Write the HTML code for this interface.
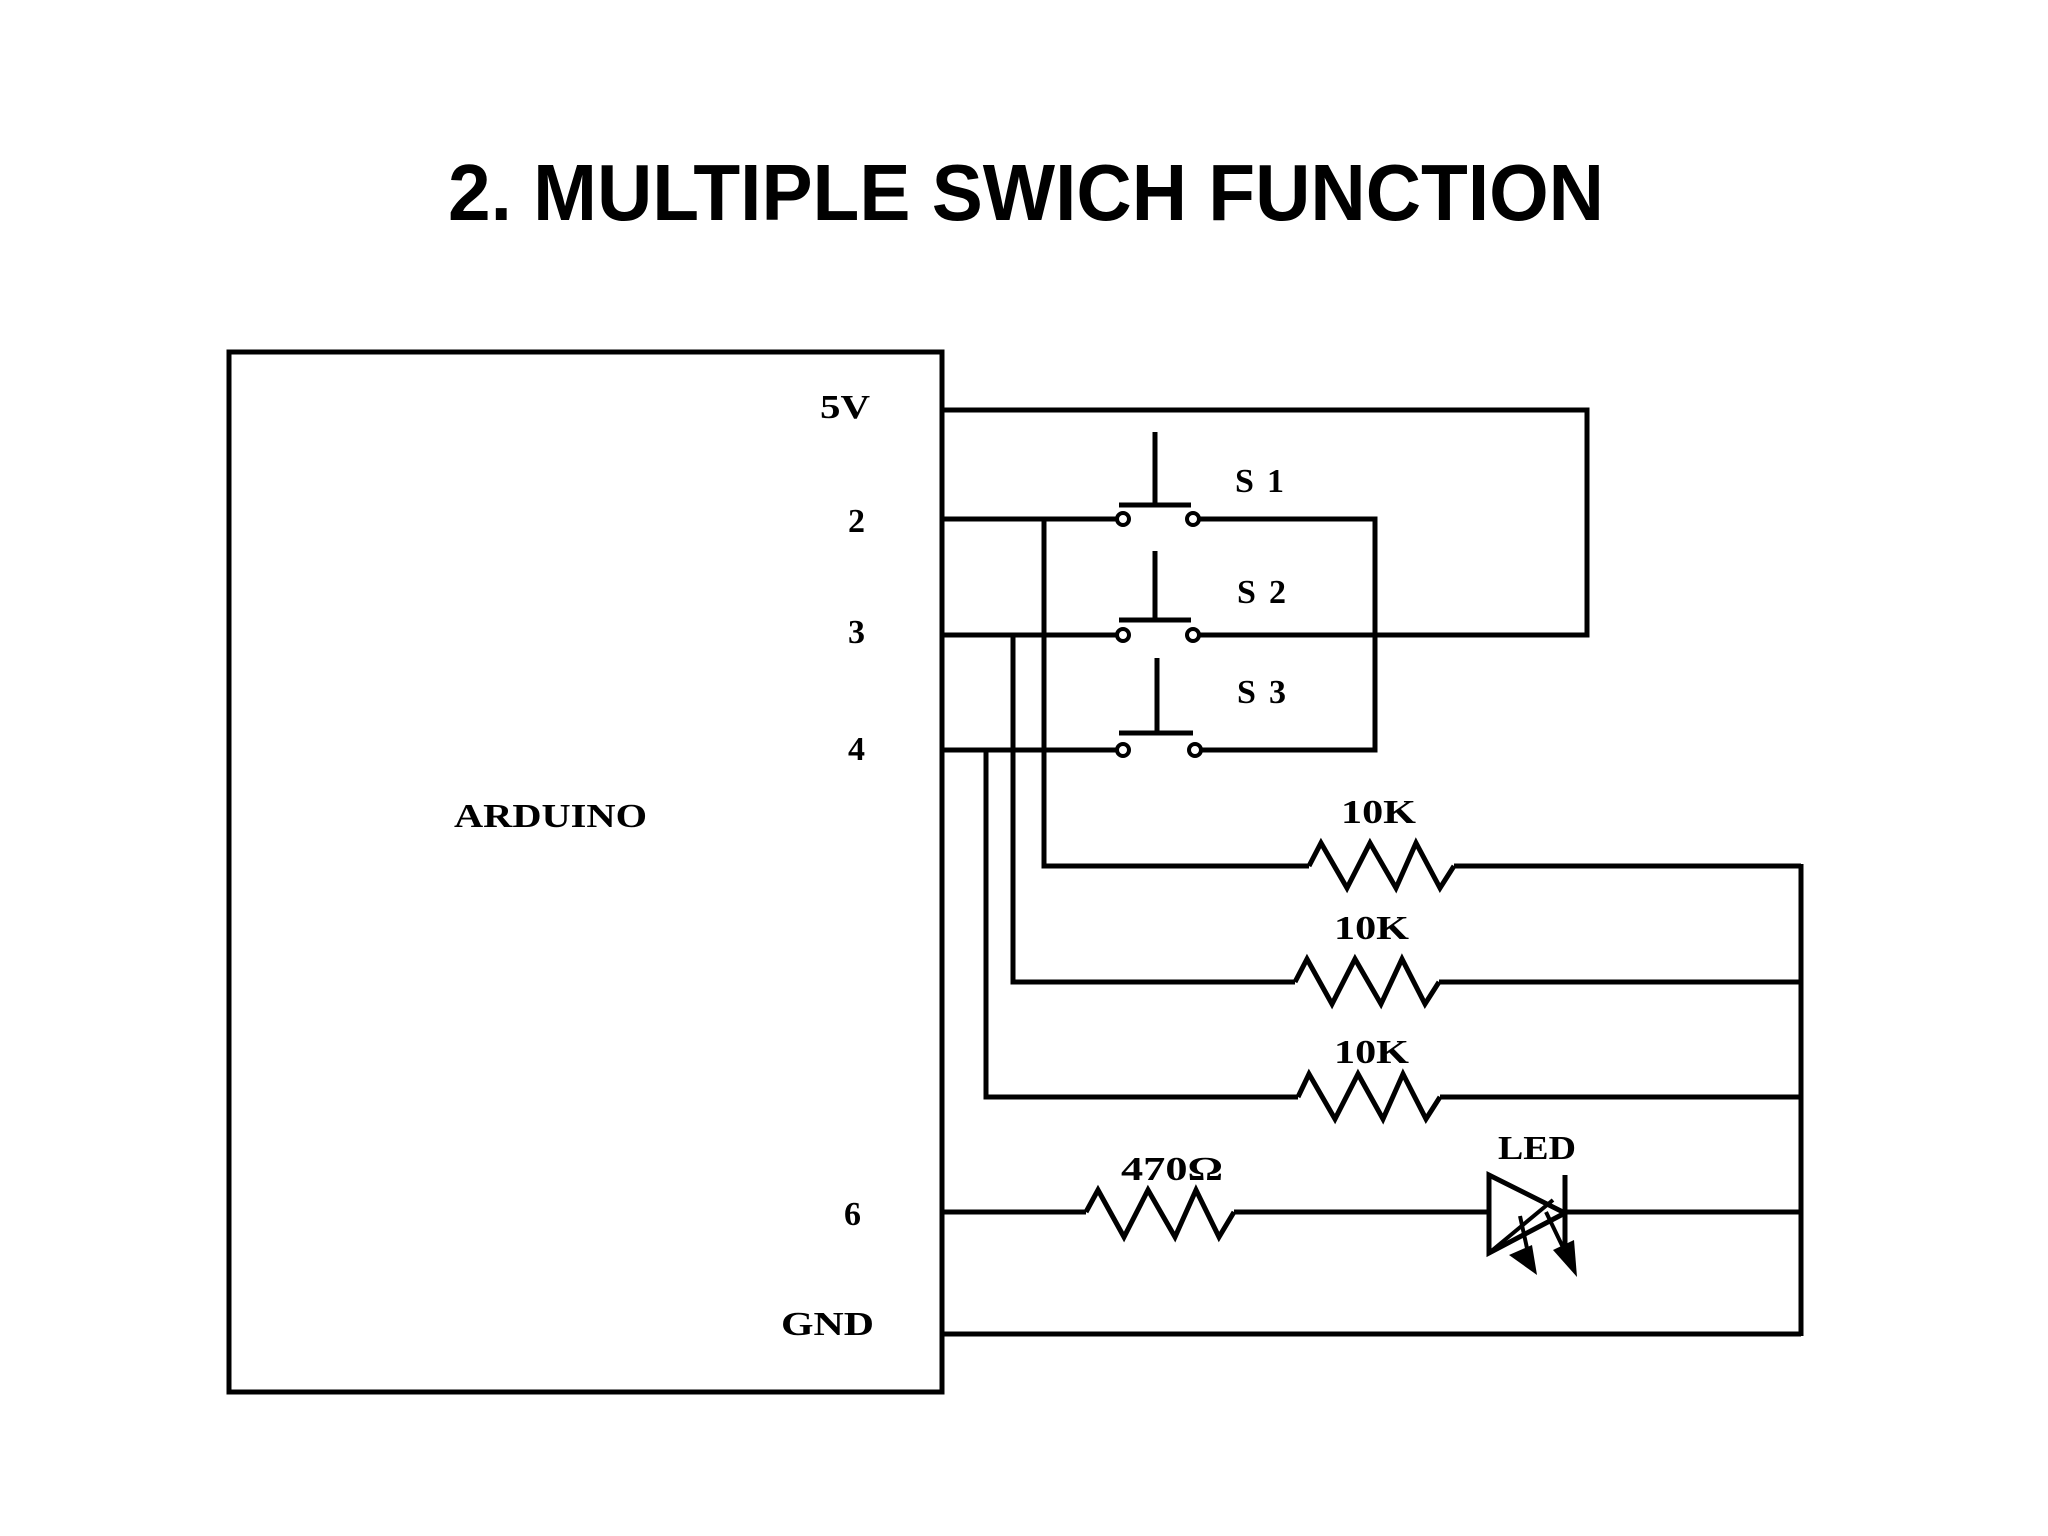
<!DOCTYPE html>
<html><head><meta charset="utf-8"><style>
html,body{margin:0;padding:0;background:#fff;}
svg{display:block;}
</style></head><body>
<svg width="2048" height="1536" viewBox="0 0 2048 1536" xmlns="http://www.w3.org/2000/svg">
<rect width="2048" height="1536" fill="#fff"/>
<text x="448" y="220" font-family="Liberation Sans, sans-serif" font-weight="bold" font-size="80" textLength="1156" lengthAdjust="spacingAndGlyphs">2. MULTIPLE SWICH FUNCTION</text>

<g fill="none" stroke="#000" stroke-width="5" stroke-linejoin="miter">
<rect x="229" y="352" width="713" height="1040"/>
<polyline points="942,410 1587,410 1587,635 1198,635"/>
<line x1="942" y1="519" x2="1118" y2="519"/>
<polyline points="1198,519 1375,519 1375,750 1198,750"/>
<line x1="942" y1="635" x2="1118" y2="635"/>
<line x1="942" y1="750" x2="1118" y2="750"/>
<polyline points="1044,519 1044,866 1309,866"/>
<polyline points="1013,635 1013,982 1295,982"/>
<polyline points="986,750 986,1097 1298,1097"/>
<line x1="1454" y1="866" x2="1801" y2="866"/>
<line x1="1439" y1="982" x2="1801" y2="982"/>
<line x1="1440" y1="1097" x2="1801" y2="1097"/>
<line x1="1801" y1="864" x2="1801" y2="1336"/>
<polyline points="1309,866 1321,843 1347,888 1370,843 1396,888 1416,843 1440,888 1454,866"/>
<polyline points="1295,982 1307,959 1332,1004 1355,959 1381,1004 1402,959 1425,1004 1439,982"/>
<polyline points="1298,1097 1309,1074 1335,1119 1358,1074 1383,1119 1403,1074 1426,1119 1440,1097"/>
<line x1="942" y1="1212" x2="1086" y2="1212"/>
<polyline points="1086,1212 1098,1190 1124,1237 1148,1190 1175,1237 1196,1190 1219,1237 1234,1212"/>
<line x1="1234" y1="1212" x2="1489" y2="1212"/>
<line x1="1565" y1="1212" x2="1801" y2="1212"/>
<line x1="942" y1="1334" x2="1801" y2="1334"/>
<line x1="1155" y1="432" x2="1155" y2="505"/>
<line x1="1119" y1="505" x2="1191" y2="505"/>
<line x1="1155" y1="551" x2="1155" y2="620"/>
<line x1="1119" y1="620" x2="1191" y2="620"/>
<line x1="1157" y1="658" x2="1157" y2="733"/>
<line x1="1119" y1="733" x2="1193" y2="733"/>
<polygon points="1489,1175 1489,1253 1565,1213"/>
<line x1="1565" y1="1175" x2="1565" y2="1253"/>
<line x1="1489" y1="1253" x2="1553" y2="1200" stroke-width="4"/>
<line x1="1520" y1="1216" x2="1530" y2="1262" stroke-width="4"/>
<line x1="1546" y1="1212" x2="1570" y2="1262" stroke-width="4"/>
</g>
<g fill="#000">
<polygon points="1509,1255 1532,1245 1537,1275"/>
<polygon points="1553,1250 1574,1240 1577,1277"/>
</g>
<g fill="#fff" stroke="#000" stroke-width="4">
<circle cx="1123" cy="519" r="6"/><circle cx="1193" cy="519" r="6"/>
<circle cx="1123" cy="635" r="6"/><circle cx="1193" cy="635" r="6"/>
<circle cx="1123" cy="750" r="6"/><circle cx="1195" cy="750" r="6"/>
</g>

<g font-family="Liberation Serif, serif" font-size="34" fill="#000">
<text x="820" y="418" font-weight="bold" textLength="50" lengthAdjust="spacingAndGlyphs">5V</text>
<text x="848" y="532" font-weight="bold">2</text>
<text x="848" y="643" font-weight="bold">3</text>
<text x="848" y="760" font-weight="bold">4</text>
<text x="844" y="1225" font-weight="bold">6</text>
<text x="781" y="1335" font-weight="bold" textLength="93" lengthAdjust="spacingAndGlyphs">GND</text>
<text x="454" y="827" font-weight="bold" textLength="193" lengthAdjust="spacingAndGlyphs">ARDUINO</text>
<text x="1235" y="492" font-weight="bold" textLength="49" lengthAdjust="spacing">S1</text>
<text x="1237" y="603" font-weight="bold" textLength="49" lengthAdjust="spacing">S2</text>
<text x="1237" y="703" font-weight="bold" textLength="49" lengthAdjust="spacing">S3</text>
<text x="1341" y="823" font-weight="bold" textLength="75" lengthAdjust="spacingAndGlyphs">10K</text>
<text x="1334" y="939" font-weight="bold" textLength="75" lengthAdjust="spacingAndGlyphs">10K</text>
<text x="1334" y="1063" font-weight="bold" textLength="75" lengthAdjust="spacingAndGlyphs">10K</text>
<text x="1121" y="1180" font-weight="bold" textLength="102" lengthAdjust="spacingAndGlyphs">470Ω</text>
<text x="1498" y="1159" font-weight="bold" textLength="78" lengthAdjust="spacingAndGlyphs">LED</text>
</g>
</svg>
</body></html>
